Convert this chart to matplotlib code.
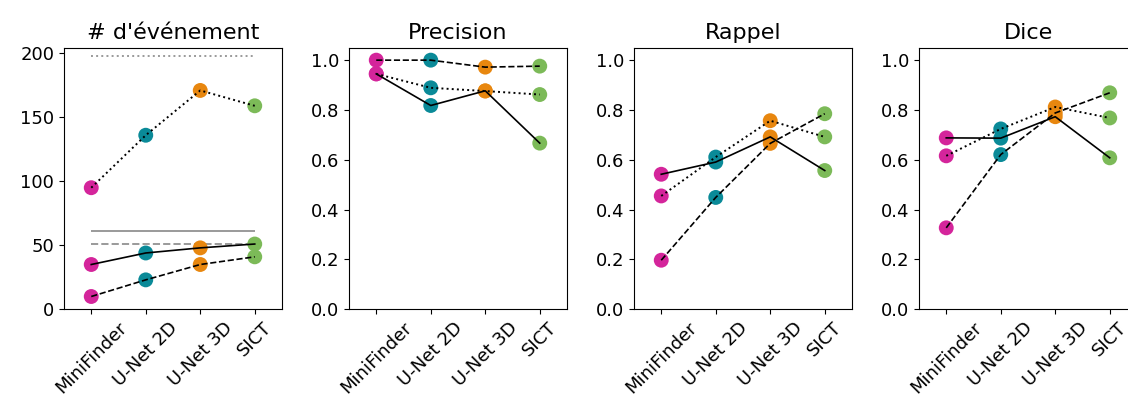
import matplotlib
matplotlib.use("Agg")
import matplotlib.pyplot as plt
import numpy as np

### Data

methods = ["MiniFinder", "U-Net 2D", "U-Net 3D", "SICT"]
colours = ["#d4259b", "#0a8a98", "#e8870f", "#7cba58"]

titles = ["# d'événement", "Precision", "Rappel", "Dice"]

# event counts: three series + reference levels (grey horizontal lines)
count_solid = [35, 44, 48, 51]
count_dashed = [10, 23, 35, 41]
count_dotted = [95, 136, 171, 159]
count_ref_solid = 61
count_ref_dashed = 51
count_ref_dotted = 198

precision_solid = [0.945, 0.818, 0.877, 0.667]
precision_dashed = [1.0, 1.0, 0.972, 0.976]
precision_dotted = [0.945, 0.889, 0.876, 0.862]

recall_solid = [0.542, 0.591, 0.692, 0.557]
recall_dashed = [0.197, 0.449, 0.666, 0.785]
recall_dotted = [0.455, 0.611, 0.757, 0.692]

dice_solid = [0.688, 0.687, 0.773, 0.608]
dice_dashed = [0.327, 0.621, 0.788, 0.869]
dice_dotted = [0.616, 0.724, 0.812, 0.768]


### Drawing

def show_series(my_axis, x, solid, dashed, dotted):
    for values in (solid, dashed, dotted):
        my_axis.scatter(x, values, s=115, color=colours, zorder=2, linewidths=0)
    my_axis.plot(x, solid, color="black", linestyle="-", lw=1.2, zorder=3)
    my_axis.plot(x, dashed, color="black", linestyle="--", lw=1.2, zorder=3)
    my_axis.plot(x, dotted, color="black", linestyle=":", lw=1.4, zorder=3)


fig = plt.figure(figsize=(11.28, 4.05), dpi=100)
W, H = 1128, 405
lefts = [64, 349, 634, 919]
panel_w = 218
bottom, top = 309.3, 47.7

x = np.arange(len(methods))
all_data = [
    (count_solid, count_dashed, count_dotted),
    (precision_solid, precision_dashed, precision_dotted),
    (recall_solid, recall_dashed, recall_dotted),
    (dice_solid, dice_dashed, dice_dotted),
]

for i, left in enumerate(lefts):
    ax = fig.add_axes([left / W, 1 - bottom / H, panel_w / W, (bottom - top) / H])
    solid, dashed, dotted = all_data[i]
    if i == 0:
        ax.hlines(count_ref_dotted, x[0], x[-1], color="grey", linestyle=":", lw=1.4, alpha=0.8)
        ax.hlines(count_ref_solid, x[0], x[-1], color="grey", linestyle="-", lw=1.4, alpha=0.8)
        ax.hlines(count_ref_dashed, x[0], x[-1], color="grey", linestyle="--", lw=1.4, alpha=0.8)
        ax.set_ylim(0, 204.4)
        ax.set_yticks([0, 50, 100, 150, 200])
    else:
        ax.set_ylim(0, 1.05)
        ax.set_yticks([0.0, 0.2, 0.4, 0.6, 0.8, 1.0])
    show_series(ax, x, solid, dashed, dotted)
    ax.set_xlim(-0.5, 3.5)
    ax.set_xticks(x)
    ax.set_xticklabels(methods, rotation=45)
    ax.tick_params(labelsize=13)
    ax.set_title(titles[i], fontsize=16)

fig.savefig("out.png", dpi=100)
